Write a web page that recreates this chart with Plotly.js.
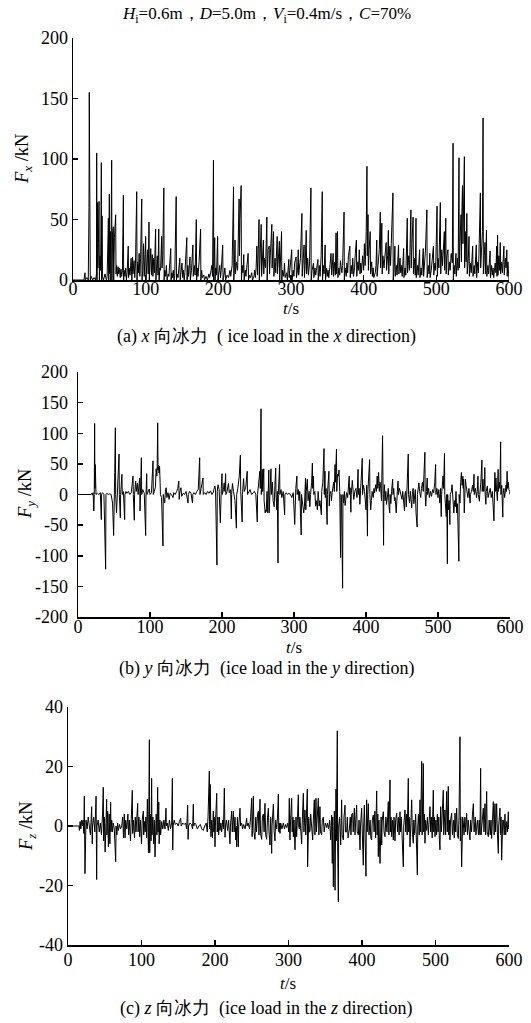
<!DOCTYPE html>
<html><head><meta charset="utf-8">
<script src="https://cdn.plot.ly/plotly-3.0.1.min.js"></script>
<style>html,body{margin:0;padding:0;background:#fff}#chart{width:531px;height:1023px}</style>
</head><body><div id="chart"></div>
<script>
// ---- data: [time (s), force (kN)] ----
const fxSeries = [[0,0],[15,0],[16,4],[16.5,6],[17,0],[19,2],[21,0],[22,60],[22.4,155],[22.8,0],[23.1,132],[23.4,155],[23.8,0],[25,3],[27,0],[29,2],[31,0],[32.3,5],[32.6,105],[33,0],[33.7,64],[34.3,10],[35,30],[35.8,65],[36.3,0],[37,20],[38,8],[39,97],[39.5,0],[40,53],[40.5,3],[42,0],[44,5],[46,0],[47,3],[48.7,51],[49.2,0],[50,71],[50.5,5],[51.5,40],[52,0],[53.2,99],[53.6,0],[54.5,40],[55.5,44],[56,0],[57,35],[58.7,54],[59.2,5],[60,12],[61,3],[62,11],[63,5],[64,10],[65,2],[66,9],[67,3],[68,8],[69.3,70],[69.7,0],[70.5,8],[71.5,3],[72.5,10],[73.5,0],[74.5,6],[76,28],[76.5,2],[77.5,10],[78.5,4],[80,18],[81,0],[82,19],[82.5,5],[84,16],[85,2],[86,14],[87.7,73],[88.1,0],[89,15],[90,6],[91,22],[92,3],[93,18],[94.6,67],[95,0],[96,8],[97,30],[98,3],[99,20],[100,36],[100.5,0],[101.5,10],[102.5,25],[103.5,5],[104.6,48],[105,0],[106,10],[107,26],[108,4],[109,21],[110,3],[111,18],[112,6],[113.7,42],[114.1,0],[115,15],[116,20],[117,4],[118,42],[118.5,0],[119.5,10],[120.5,8],[122,36],[122.5,10],[123.5,20],[125,76],[125.4,0],[126.5,8],[127.5,3],[128.5,12],[129.5,0],[131,5],[132,3],[134.5,26],[135,0],[136,6],[137,2],[138,8],[139,0],[140,4],[142,69],[142.4,0],[143.5,5],[144.5,2],[145.5,10],[147,18],[147.5,0],[149,6],[150,14],[151,2],[152,8],[153,0],[154,6],[156.6,35],[157,0],[158,12],[159,3],[161,19],[161.5,0],[163,8],[165,29],[165.5,3],[167,12],[168,4],[169.7,50],[170.1,0],[171,10],[172,3],[173.5,15],[175.6,42],[176,0],[177,8],[178,2],[180,4],[181,0],[183,3],[185,0],[187,5],[188,2],[190,8],[191,12],[192,3],[193.3,99],[193.7,0],[194.5,20],[195,35],[195.5,0],[196.5,10],[197.5,4],[199,36],[199.5,0],[201,6],[202,12],[203,2],[204,8],[206,29],[206.5,0],[208,5],[209,10],[210,0],[212,4],[214,2],[216,8],[217,3],[219,12],[220.9,77],[221.3,0],[222,10],[223,33],[223.5,5],[225,15],[226.5,8],[228.6,67],[229,20],[229.8,50],[231.4,78],[231.8,0],[233,12],[234,6],[235,21],[235.5,0],[237,8],[238,3],[239,10],[241,22],[241.5,0],[243,4],[244,2],[246,6],[247,0],[249,3],[250,8],[251,2],[252,10],[253,28],[254,4],[256,50],[256.4,0],[257.5,15],[259,46],[259.5,3],[260.5,20],[262,33],[262.5,5],[263.5,18],[265,10],[266.8,52],[267.2,0],[268.5,25],[270,28],[270.5,5],[271.5,20],[273.6,46],[274,10],[275,25],[276,40],[276.5,3],[278,18],[279,6],[281,36],[281.4,5],[282.5,20],[284,32],[284.5,0],[285.5,12],[287,40],[287.4,0],[288.5,8],[290,3],[291,14],[292,2],[294,6],[295,0],[297,17],[297.5,2],[299,10],[301,25],[301.5,0],[303,8],[304,3],[305,14],[307,19],[307.5,2],[309,8],[310,25],[310.5,4],[312,12],[313,18],[315,55],[315.4,3],[316.5,14],[318,29],[318.5,2],[319.5,12],[321,41],[321.5,5],[323,18],[324,4],[325.5,14],[327.4,76],[327.8,0],[329,8],[331,14],[331.5,2],[333,10],[334,4],[335,8],[337,17],[337.5,0],[339,12],[340,3],[341.5,20],[343,73],[343.4,0],[344.5,12],[345.5,5],[347,29],[347.5,0],[349,10],[350,3],[351,8],[352,2],[354,14],[355,22],[356,4],[358,22],[358.5,3],[360,15],[361,4],[362,39],[362.5,5],[364,40],[364.5,2],[366,10],[367,4],[368,16],[370,6],[371,12],[373,56],[373.4,0],[374.5,10],[376,3],[377,14],[378,6],[379,20],[381,28],[381.5,2],[383,12],[384,5],[385,18],[386,3],[387.5,10],[388.5,22],[390,33],[390.5,3],[392,15],[393,8],[394,25],[395,5],[396,14],[397,6],[398.5,20],[400,8],[401,30],[402,12],[403.5,40],[404.5,94],[405,20],[406,54],[406.5,8],[407.5,25],[409,40],[409.5,5],[411,15],[412,3],[413,10],[414,2],[416,6],[417,12],[418,33],[418.5,3],[420,14],[421.5,25],[422.9,56],[423.3,10],[425,47],[425.5,5],[426.5,20],[428,10],[429,18],[431,31],[431.5,8],[433,20],[434,41],[434.5,5],[436,28],[437,12],[438,30],[440.3,72],[440.7,0],[442,10],[443,28],[443.5,3],[445,12],[446,4],[448,29],[448.5,5],[450,18],[451,6],[452,12],[453,3],[455,26],[455.5,2],[457,10],[458,4],[460,51],[460.4,6],[462,20],[463,8],[465,58],[465.4,10],[466.5,30],[468,52],[468.5,5],[470,18],[471,4],[472,51],[472.4,2],[474,12],[475,4],[477,25],[477.5,2],[479,10],[480,4],[482,26],[482.5,3],[484,14],[485,24],[487,58],[487.4,2],[489,12],[490,5],[491,22],[491.5,2],[493,8],[494,15],[496,28],[496.5,4],[498,14],[499,8],[501,61],[501.4,3],[502.5,18],[503.5,10],[505.5,64],[506,5],[507.5,25],[508.5,12],[510,35],[511,40],[511.5,8],[513,51],[513.5,5],[514.5,20],[516,25],[516.5,4],[518,15],[519,8],[520.5,22],[522,14],[523,113],[523.4,0],[524.5,12],[525.5,5],[527,22],[527.5,3],[529,18],[530,8],[531.2,101],[531.6,10],[532.5,30],[534,54],[534.5,15],[535.3,60],[536,78],[536.6,30],[537.5,80],[538.6,102],[539,10],[540,40],[541,15],[542,55],[542.5,5],[544,18],[545,36],[545.5,3],[547,14],[548,6],[550,28],[550.5,3],[552,12],[553,5],[555,29],[555.5,2],[557,15],[558,6],[559,30],[560.6,72],[561,10],[562,25],[563.5,40],[564.3,134],[564.7,5],[566,20],[567,31],[567.5,5],[569,41],[569.5,3],[571,12],[572,5],[574,24],[574.5,2],[576,12],[577,4],[578,10],[579,2],[581,14],[582,6],[583,28],[583.5,3],[584.3,37],[584.8,4],[586,20],[587,8],[588,31],[588.5,5],[590,15],[591,6],[592,22],[593,28],[593.5,4],[595,18],[596,10],[597,25],[597.5,3],[598.5,15],[599.5,5],[600,0]];

const fySeries = [[0,0],[18,0],[19,2],[20,-1],[21,3],[22,-27],[22.6,0],[23.1,116],[23.5,10],[24,49],[24.5,36],[25,0],[27,2],[29,0],[31,3],[32.4,-41],[32.8,0],[34,3],[36,0],[38.4,-122],[38.8,0],[40,2],[42,0],[44,1],[46,0],[48,-14],[49.5,-67],[50,0],[51,36],[51.9,109],[52.3,0],[53.5,-30],[54.5,5],[55.5,8],[57,66],[57.4,0],[58.8,-38],[59.2,0],[60,10],[61,33],[61.5,0],[63,5],[64.8,-41],[65.2,0],[66.5,5],[68,2],[70,5],[72,0],[74,3],[76.4,30],[76.8,0],[78.2,-42],[78.6,0],[80,22],[81,5],[82.5,19],[83.5,0],[84.5,10],[85.7,27],[86.2,-27],[86.8,5],[88,60],[88.4,0],[90,8],[92,2],[94,-67],[94.4,0],[95.4,34],[95.8,0],[97,5],[99,9],[100,0],[102,3],[104.2,55],[104.6,0],[106,5],[107.5,12],[108.5,42],[109.5,30],[110,45],[110.7,117],[111.2,40],[111.8,48],[112.5,35],[113.3,46],[114,20],[114.5,0],[116,-5],[118,-84],[118.4,0],[119.5,-10],[120.5,-14],[121.5,8],[122.5,11],[123.5,-5],[125,3],[126.5,-8],[128,2],[130,0],[132,-5],[133,3],[135,0],[137,5],[138.5,10],[140,22],[140.5,-8],[141.5,5],[143,11],[144,-3],[146,2],[148,0],[150,5],[152.8,-14],[153.2,0],[155,5],[157,2],[159,-14],[159.5,0],[161,3],[163,0],[165,5],[167,8],[169,60],[169.4,0],[171,10],[173.6,27],[174,0],[176,3],[178,0],[180,5],[182,2],[184,6],[186,0],[188,4],[190,14],[191,8],[193,-115],[193.4,5],[194.5,16],[196,8],[197.7,-46],[198.1,0],[199,10],[200,34],[200.4,0],[202,8],[203,19],[204,5],[205,34],[205.4,0],[207,5],[209,18],[210,3],[212,8],[213,-40],[213.4,0],[214.5,18],[216,5],[218,-10],[220,-55],[220.4,0],[222,10],[224,30],[225.5,64],[226,5],[228,-45],[228.4,0],[230,26],[231,5],[233,12],[235,38],[235.4,0],[237,5],[239,8],[241,0],[243,3],[245,5],[247,0],[249,-45],[249.4,0],[251,15],[252.5,38],[253.2,10],[254.2,140],[254.6,0],[256,41],[256.5,5],[258,42],[258.5,-10],[260,-30],[260.5,-25],[261.5,-28],[262.5,5],[263.5,-30],[264.2,10],[265,40],[265.5,-30],[266.5,5],[268,42],[268.5,0],[270,20],[271,-10],[272.5,-20],[273.5,15],[274.6,43],[275,0],[276.2,-25],[276.8,5],[277.8,-112],[278.2,0],[279,20],[280,49],[280.4,0],[282,8],[283,-5],[285,5],[287,-33],[287.4,0],[289,3],[291,0],[293,2],[295,0],[297,-5],[299,3],[301,-49],[301.4,0],[302.5,10],[304,30],[304.4,0],[306,8],[307,-10],[308,5],[309,-20],[310,-66],[310.4,0],[311.5,-10],[312.5,-14],[313.5,-30],[314.5,-20],[316,27],[316.4,-25],[317,5],[318.5,25],[319.5,-10],[321,5],[322,-20],[323,0],[324.5,20],[325.5,51],[326,10],[327,30],[327.5,0],[329,5],[330,-19],[331,-10],[332.5,-25],[333.5,5],[335,-19],[336,-10],[338,-33],[338.5,5],[340,20],[341.7,75],[342.1,0],[343,38],[343.5,-5],[344.5,10],[346,-49],[346.4,0],[347.5,15],[348.5,38],[349,-19],[349.5,0],[351,5],[352,-10],[353,3],[355,20],[356,5],[357,49],[357.5,20],[358.3,45],[359,74],[359.4,5],[360.5,33],[361.5,30],[362.5,40],[363.5,5],[364.7,-103],[365.2,0],[366,-5],[367.5,-153],[368,0],[369,-14],[370,5],[371,-18],[372,0],[373,3],[374.5,-5],[376.7,30],[377.1,0],[378,11],[379,-29],[379.5,0],[381,23],[382,5],[383,-8],[384.5,5],[386,10],[387.5,-5],[389,41],[389.4,0],[390.5,10],[391.5,-16],[392,0],[393.5,20],[394.8,59],[395.2,0],[396.5,15],[398,5],[399,-10],[400,-25],[401,15],[402,-68],[402.4,0],[403.5,20],[405,57],[405.4,0],[406.5,-25],[407.5,-10],[408.5,5],[410,-5],[411,10],[412,3],[413.5,16],[414.5,5],[415.5,30],[416.5,10],[417.5,36],[418.5,5],[419.5,20],[420.5,10],[421.5,-10],[423,96],[423.4,0],[424.4,-83],[424.8,0],[425.5,16],[426.5,-10],[427.5,5],[428.5,-16],[429.5,-8],[431,10],[432,-20],[433,-30],[433.5,0],[434.5,-15],[435.5,5],[437,25],[437.5,0],[438.5,10],[439.5,-10],[440.5,-5],[442,-30],[442.5,0],[443.5,5],[444.5,22],[445,0],[446.5,10],[448,3],[450,-8],[451,5],[452,-10],[453.5,-27],[454,0],[455,5],[456,-20],[457,5],[458.7,66],[459.1,0],[460.5,-14],[461.5,5],[462.5,-10],[463.5,-22],[464.5,5],[465.5,10],[466.5,-15],[467.5,0],[468.5,8],[469.5,-30],[471,-53],[471.4,0],[472.5,10],[473.5,19],[474.5,5],[476,-5],[477,10],[478.5,20],[479.5,5],[480.5,30],[481.8,69],[482.2,0],[483,-19],[484,5],[485,27],[485.5,0],[487,10],[488,-5],[489.5,5],[491,-3],[492.5,8],[494,3],[495.5,20],[496.7,49],[497.1,0],[498.5,10],[500,-5],[501,8],[502.5,-14],[503.5,10],[504.5,-36],[505,0],[506,15],[507,30],[507.8,10],[509,67],[509.4,0],[510.5,-20],[511.5,-36],[512.2,0],[513,-113],[513.4,0],[514.5,-25],[515.5,-10],[516.5,-49],[517,0],[518.5,5],[519.5,16],[520.5,-5],[522,-30],[523,-10],[524,-20],[525,5],[526,-30],[527,-15],[528,-50],[529,-109],[529.4,0],[530.5,-14],[531.5,20],[532.5,36],[533.5,15],[534.5,30],[535,10],[535.5,25],[536.5,-30],[537,0],[538,25],[539,15],[540.5,5],[541.5,-5],[543,10],[544.5,-14],[545,0],[546.5,5],[548,15],[549,5],[550,33],[550.4,0],[552,10],[553.5,-5],[554.5,5],[555.5,30],[556,0],[557.5,-11],[558,0],[559.5,20],[561,56],[561.4,5],[562.5,25],[563.5,5],[564.5,15],[565,44],[565.5,0],[566.5,-16],[567,5],[568.5,14],[569.5,-5],[571,5],[572.5,10],[574,-5],[575.5,5],[577.7,-43],[578.1,0],[579,36],[579.5,5],[580.5,27],[581.5,5],[582.5,-10],[583.5,41],[584,5],[585,20],[586,10],[587,86],[587.4,0],[588.5,15],[590,-37],[590.4,0],[591.5,10],[592.5,-5],[593.5,5],[594.5,15],[595.2,5],[596,38],[596.5,10],[597.5,20],[598.5,8],[599.5,5],[600,0]];

const fzSeries = [[0,0],[15,0],[15.5,-1.5],[16.5,1.5],[17.5,-1],[18.5,2],[19.5,0],[20.5,2],[21.5,-2.5],[22.2,10],[23.1,-16],[23.6,0],[24.5,2],[26,-1],[27.5,3],[29,0],[30.5,-3],[32.2,6.5],[33,-6],[33.5,0],[35,3],[36.5,-2],[38.2,10],[39,-18],[39.5,0],[41,2],[42.5,-2],[44,1],[45.5,-3],[47,4],[48,13],[48.5,-5],[49.5,3],[50.5,-8.7],[51.5,5],[52.6,9],[53,-3],[54,5],[55,-7],[56,4],[57,-6],[58,8],[58.5,-2],[59.5,2],[60.5,-2],[61.5,1],[63,-1],[64.9,-12],[65.4,0],[66.5,-3],[67.5,1],[68.5,-1.5],[70,0.5],[71.5,-1],[73,0],[74.5,3],[75.5,-4],[76.6,4],[77.6,-4],[78.5,2],[80,-1],[81.5,4],[82.5,-3],[83.5,2],[85,-5],[86.5,3],[87.5,12],[88,-2.5],[89,2],[90.5,-4],[91.5,3],[92.5,-2],[94.8,7.6],[95.3,-2],[96.5,3],[97.5,-3.6],[98.5,2],[100,-6],[101,2],[102.5,5],[103,-3],[104,1.5],[105,-2],[106,3],[107,-4],[108,9],[108.5,-2],[109.5,-9],[110.7,29],[111.2,-9],[112,4],[113,-5],[113.8,16],[114.3,-3],[115.5,3],[116.5,-6],[117.5,2],[118.4,-10.4],[118.9,0],[120,4],[121,-3],[122,13],[122.5,-2],[123.5,8],[124,-6],[125,2],[126,-3],[127.5,1.5],[129,-1],[130.5,2],[132,-1],[133.3,6],[133.8,0],[135,1],[136.5,-1.5],[138,2],[139.5,-1],[141,1],[142,16],[142.5,-8],[143,0],[144.5,2],[146,0.5],[148,1],[150,0],[151.5,1.5],[153.3,2.6],[154,0],[156,1],[158,0.5],[160,1],[161.5,-1],[162.8,7],[163.4,-4.5],[164,0],[166,1],[168,0.5],[169.5,-1],[170.5,7.3],[171,0],[172.5,1],[174,0.5],[176,-1],[178,0],[180,0.5],[182,-1],[184,-1.5],[186,0],[188,1],[189.5,-2],[190.5,3],[192.3,18.5],[192.8,-1],[193.5,14],[194.5,-3.6],[195.5,2],[196.5,-4],[197.7,5],[198.5,-2],[199.3,3],[200,-7],[200.5,0],[202.3,11],[203,-2],[204,3],[205,-3],[205.9,3],[206.8,-1.5],[208,1],[209,-2],[210.5,2],[211.5,-1],[212.7,12.7],[213.6,-3.8],[214.3,0],[215.5,2],[217.2,-1.5],[218.5,2],[220.4,-6],[221,0],[222.7,5],[223.5,-2],[225,5],[226,-2],[227.2,3],[228.3,-4.7],[229,0],[229.5,-7],[230.5,3],[231.7,-7],[232.3,0],[234,6],[234.8,0],[236.3,1],[237.5,-1],[239,0.5],[241,-1],[243.1,2.6],[243.6,0],[245,1],[247,-1],[248.5,3],[249.9,9.3],[250.5,-3.6],[251.2,2],[252.2,10],[253,-2],[254.4,-4.5],[255.5,3],[256.5,-2],[258,4],[259,5],[259.8,-3],[261.2,9],[262,-2.5],[263.5,-4.5],[264.5,3],[265.8,4],[266.8,-2],[268,7.6],[269,-3],[270.3,-4.5],[271.5,3],[272.6,6],[273.5,-2],[274.8,-6.4],[275.8,3],[277.1,-9.2],[277.6,0],[278.5,3],[279.4,7.4],[280.5,-2],[281.6,-5],[282.5,2],[284,-1],[285,3],[286.2,10.7],[286.8,-2],[287.5,1],[288.4,-2.5],[289.5,1],[291,-1],[293,1],[294.5,-1],[296,0.5],[297.5,-0.5],[299,1],[300.3,-2],[301.1,9.3],[301.6,-2],[302,-4.7],[303,3],[304.3,9.3],[305,-2],[306,3],[306.6,-3.6],[307.5,2],[308.8,-8],[309.5,0],[310.2,3],[311.1,-3.6],[312,2],[313.4,10.5],[313.9,0],[314.7,-1],[315.5,3],[316.5,-3],[317.9,-6],[318.5,0],[319.3,4],[320.2,11],[321,-2],[322.4,5.4],[323.5,-3],[324.5,4],[325.6,12.4],[326,-13.7],[326.5,0],[327.5,3],[328.5,-2],[329.2,-1.9],[330.2,4],[331.5,-2],[332.9,-4.7],[333.8,2],[335.1,8.8],[336,-3],[337.4,9.3],[338,-2],[339,5],[340.6,9.3],[341.3,-3],[342.8,6.5],[343.5,-2],[345.1,-3],[346,2],[347.4,3],[348.5,-2],[350,1],[351.9,-0.5],[353,1],[354.5,-1],[356,2],[357.4,-4.7],[358.7,3.7],[359.6,-12.6],[360.2,3],[361,-20.5],[361.5,0],[362.4,5],[363.3,-21.6],[363.9,0],[364.6,12.4],[365.2,-5],[366.4,32],[366.8,-5],[367.8,-25.5],[368.3,0],[369.5,3],[371,-6.4],[371.6,0],[372.3,8.8],[373,-3],[374.6,-4.7],[375.5,3],[376.9,7],[377.5,-2],[379.1,-2],[380,3],[381,-4],[382.8,-1],[384,3],[385,-3],[386,4],[387.3,4.3],[388,-2],[389.6,6],[390.5,-3],[391.5,2],[392.7,7],[393.5,-2],[395,-3],[396,2],[397.3,-8],[398,0],[399.5,6],[400.5,-3],[401.8,-13.2],[402.3,0],[403.2,7],[404,-2],[405.4,-16.9],[405.9,0],[406.3,8.8],[407,-2],[408.6,7.5],[409.5,-3],[411,2],[412,-4],[413.1,-4.7],[414,2],[415.4,3.7],[416.5,-2],[417.5,5],[418.5,-4],[420,11.8],[420.6,-3],[421.5,4],[422.2,-10.3],[423,2],[424.5,-12.6],[425.2,0],[426,3],[426.8,-6.4],[427.5,2],[429,4.8],[430,-2],[431.3,-3.6],[432.5,3],[434,-2],[435,5],[435.8,8.2],[436.6,-3],[438.1,15.5],[438.6,-2],[439.5,3],[440.4,-3.6],[441.5,2],[442.6,-4.7],[443.5,3],[444.9,-5],[445.8,2],[447.2,4.3],[448.3,-2],[449.5,3],[450.5,-3],[451.7,4.8],[452.5,-2],[453.5,3],[454.5,-4],[456.2,-13.7],[456.8,0],[457.5,3],[458.5,5.4],[459.5,-2],[460.5,4],[461.5,-3],[463,16],[463.5,-2],[464.5,3],[465.3,-7],[466.3,2],[467.6,8.8],[468.5,-2],[469.8,-5.8],[470.5,2],[471.5,-3],[473,4],[474,-5],[475.3,-16.5],[475.9,0],[476.8,4],[477.8,-3],[478.9,8.8],[479.8,-2],[481.2,21.7],[481.8,-3],[482.5,5],[483.4,21],[484,-2],[485,4],[485.7,-5.8],[486.5,2],[488,-1.5],[489,3],[490.3,-3],[491.5,4],[492.5,6.5],[493.5,-2],[494.5,3],[495.5,-4],[497,12],[497.6,-2],[498.5,3],[499.3,-3.6],[500.5,2],[501.5,-3],[502.5,4],[503.5,-2],[504.5,3],[505.3,-5],[506.1,-8],[506.6,0],[507,6.5],[508,-2],[509,3],[510.6,12],[511.2,-3],[512,4],[512.9,5.4],[513.8,-3],[515.2,11.6],[516,-2],[517.4,13.3],[518,-3],[518.8,2],[519.7,-4.7],[520.5,2],[522,4.3],[523,-3],[524.5,2],[525.5,-4],[526.5,4.3],[527.5,-2],[528.8,6],[529.8,-3],[531,-4.2],[532,3],[533.3,30],[533.8,-5],[534.5,3],[535.6,-13.7],[536.2,0],[537,3],[537.9,1],[538.8,-3],[540,3],[541,-2],[542.4,4.3],[543.5,-3],[544.5,2],[545.8,-4],[546.9,-4.7],[547.8,2],[549,-2],[550.3,4],[551.5,7.5],[552.5,-2],[554,3],[555,-3],[556,-0.2],[557,2],[558.5,-3],[559.5,2],[560.5,-3],[561.4,19.4],[562,-3],[562.8,-0.2],[563.8,3],[565.1,6],[566,-2],[567.3,7.5],[568.2,-3],[569.6,11.6],[570.3,-2],[571.9,-3.6],[573,2],[574.5,-3],[575.5,2],[576.4,-4.2],[577.5,2],[578.7,8.2],[579.8,-3],[580.9,7.5],[581.8,-2],[583.2,7.5],[584.3,-3],[585.5,-9.2],[586,0],[586.8,3],[587.7,6],[588.5,-3],[589.2,3],[590,-11.5],[590.6,0],[591.5,2],[592.3,2],[593.5,-3],[594.5,4],[595.5,-3],[596.8,1.5],[597.8,-2],[599.1,4.8],[599.6,-1],[600,0]];

const xTicks = [0, 100, 200, 300, 400, 500, 600];
const yTicksA = [0, 50, 100, 150, 200];
const yTicksB = [-200, -150, -100, -50, 0, 50, 100, 150, 200];
const yTicksC = [-40, -20, 0, 20, 40];

const figTitle = '<i>H</i><sub>i</sub>=0.6m，<i>D</i>=5.0m，<i>V</i><sub>i</sub>=0.4m/s，<i>C</i>=70%';
const yTitles = ['<i>F</i><sub><i>x</i></sub> /kN', '<i>F</i><sub><i>y</i></sub> /kN', '<i>F</i><sub><i>z</i></sub> /kN'];
const xTitle = '<i>t</i>/s';
const captions = [
  '(a) <i>x</i> 向冰力\u00a0\u00a0( ice load in the <i>x</i> direction)',
  '(b) <i>y</i> 向冰力\u00a0\u00a0(ice load in the <i>y</i> direction)',
  '(c) <i>z</i> 向冰力\u00a0\u00a0(ice load in the <i>z</i> direction)'
];

// ---- figure ----
const W = 531, H = 1023;
const SERIF = 'Liberation Serif';
const px = v => v / W;
const py = v => 1 - v / H;
const lbl = v => String(v); // ASCII hyphen minus, as in the reference

function trace(series, xa, ya) {
  return {
    type: 'scatter', mode: 'lines',
    x: series.map(p => p[0]), y: series.map(p => p[1]),
    xaxis: xa, yaxis: ya,
    line: {color: '#000', width: 1},
    hoverinfo: 'skip'
  };
}

const axBase = {
  showline: true, linecolor: '#000', linewidth: 1.5,
  ticks: 'inside', ticklen: 5, tickwidth: 1.5, tickcolor: '#000',
  showgrid: false, zeroline: false, fixedrange: true,
  tickfont: {family: SERIF, size: 18, color: '#000'}
};
function xa(domain, anchor, standoff) {
  return Object.assign({}, axBase, {domain: domain, range: [0, 600], tickvals: xTicks,
    ticktext: xTicks.map(lbl), anchor: anchor, ticklabelstandoff: standoff});
}
function ya(domain, range, ticks, anchor, standoff) {
  return Object.assign({}, axBase, {domain: domain, range: range, tickvals: ticks,
    ticktext: ticks.map(lbl), anchor: anchor, ticklabelstandoff: standoff});
}

const layout = {
  width: W, height: H,
  margin: {l: 0, r: 0, t: 0, b: 0},
  paper_bgcolor: '#fff', plot_bgcolor: '#fff',
  showlegend: false,
  xaxis: xa([px(73), px(509)], 'y', -8),
  yaxis: ya([py(280), py(38)], [0, 200], yTicksA, 'x', 0),
  xaxis2: xa([px(78), px(510)], 'y2', -7),
  yaxis2: ya([py(617), py(372)], [-200, 200], yTicksB, 'x2', 5),
  xaxis3: xa([px(68), px(509)], 'y3', -2),
  yaxis3: ya([py(945), py(707)], [-40, 40], yTicksC, 'x3', 0),
  annotations: []
};

function ann(text, x, y, size, extra) {
  return Object.assign({
    text: text, xref: 'paper', yref: 'paper', x: px(x), y: py(y),
    xanchor: 'center', yanchor: 'middle', showarrow: false,
    font: {family: SERIF, size: size, color: '#000'}
  }, extra || {});
}

layout.annotations.push(ann(figTitle, 266, 15, 17));
const yTitlePos = [[24, 159], [26, 494], [27, 826]];
const xTitlePos = [[291, 309], [294, 647], [288, 983]];
const capPos = [[266, 337], [266, 668], [266, 1008]];
for (let i = 0; i < 3; i++) {
  layout.annotations.push(ann(yTitles[i], yTitlePos[i][0], yTitlePos[i][1], 18.5, {textangle: -90}));
  layout.annotations.push(ann(xTitle, xTitlePos[i][0], xTitlePos[i][1], 17));
  layout.annotations.push(ann(captions[i], capPos[i][0], capPos[i][1], 18));
}

Plotly.newPlot('chart', [
  trace(fxSeries, 'x', 'y'),
  trace(fySeries, 'x2', 'y2'),
  trace(fzSeries, 'x3', 'y3')
], layout, {staticPlot: true, displayModeBar: false});
</script>
</body></html>
